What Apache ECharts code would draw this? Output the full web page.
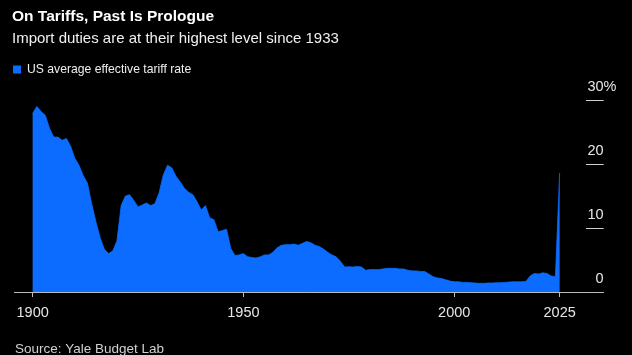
<!DOCTYPE html>
<html>
<head>
<meta charset="utf-8">
<script src="https://cdn.jsdelivr.net/npm/echarts@6/dist/echarts.min.js"></script>
<style>
html,body{margin:0;padding:0;background:#000;}
#chart{width:632px;height:355px;}
</style>
</head>
<body>
<div id="chart"></div>
<script>
const years = [
  1900,1901,1902,1903,1904,1905,1906,1907,1908,1909,
  1910,1911,1912,1913,1914,1915,1916,1917,1918,1919,
  1920,1921,1922,1923,1924,1925,1926,1927,1928,1929,
  1930,1931,1932,1933,1934,1935,1936,1937,1938,1939,
  1940,1941,1942,1943,1944,1945,1946,1947,1948,1949,
  1950,1951,1952,1953,1954,1955,1956,1957,1958,1959,
  1960,1961,1962,1963,1964,1965,1966,1967,1968,1969,
  1970,1971,1972,1973,1974,1975,1976,1977,1978,1979,
  1980,1981,1982,1983,1984,1985,1986,1987,1988,1989,
  1990,1991,1992,1993,1994,1995,1996,1997,1998,1999,
  2000,2001,2002,2003,2004,2005,2006,2007,2008,2009,
  2010,2011,2012,2013,2014,2015,2016,2017,2018,2019,
  2020,2021,2022,2023,2024,2025
];
const tariffRate = [
  27.9,29.0,28.2,27.6,25.6,24.2,24.2,23.7,24.0,22.8,
  20.9,19.8,18.2,17.0,13.8,11.0,8.5,6.7,6.0,6.4,
  8.0,13.5,15.0,15.2,14.3,13.3,13.6,13.9,13.5,13.8,
  15.5,18.3,19.8,19.4,18.1,17.2,16.2,15.6,15.2,14.1,
  12.8,13.5,11.6,11.3,9.4,9.6,9.8,6.8,5.7,5.8,
  6.0,5.5,5.4,5.3,5.5,5.8,5.8,6.2,6.9,7.3,
  7.4,7.4,7.5,7.3,7.6,7.9,7.7,7.3,7.1,6.7,
  6.2,5.8,5.5,4.8,3.9,3.95,3.9,4.0,3.9,3.4,
  3.5,3.5,3.5,3.6,3.7,3.7,3.7,3.6,3.6,3.4,
  3.3,3.3,3.2,3.2,2.8,2.4,2.2,2.1,1.9,1.7,
  1.6,1.6,1.5,1.5,1.45,1.4,1.35,1.35,1.4,1.4,
  1.45,1.45,1.5,1.55,1.6,1.6,1.6,1.65,2.5,2.9,
  2.8,3.0,2.9,2.5,2.4,18.6
];
const xTicks = [1900, 1950, 2000, 2025];
const yTicks = [0, 10, 20, 30];
const seriesName = 'US average effective tariff rate';

const FONT = "'Liberation Sans', Arial, sans-serif";
const BLUE = '#0b6cff';

const chart = echarts.init(document.getElementById('chart'), null, {renderer: 'canvas'});
chart.setOption({
  backgroundColor: '#000',
  animation: false,
  title: [
    {text: 'On Tariffs, Past Is Prologue', left: 12, top: 8.5, padding: 0,
     textStyle: {color: '#fff', fontFamily: FONT, fontSize: 15.5, fontWeight: 'bold'}},
    {text: 'Import duties are at their highest level since 1933', left: 12, top: 31, padding: 0,
     textStyle: {color: '#f0f0f0', fontFamily: FONT, fontSize: 15, fontWeight: 'normal'}},
    {text: 'Source: Yale Budget Lab', left: 15, top: 342, padding: 0,
     textStyle: {color: '#d0d0d0', fontFamily: FONT, fontSize: 13.5, fontWeight: 'normal'}}
  ],
  legend: {
    left: 13, top: 63.5, padding: 0, itemWidth: 8, itemHeight: 8, icon: 'rect',
    textStyle: {color: '#eee', fontFamily: FONT, fontSize: 12.2, padding: [0, 0, 0, 1]},
    data: [seriesName]
  },
  grid: [
    {left: 14.5, right: 28.3, top: 100, bottom: 63},
    {left: 586, right: 28.3, top: 100, bottom: 63}
  ],
  xAxis: [
    {type: 'value', gridIndex: 0, min: 1895.7, max: 2035.45,
     splitLine: {show: false},
     axisLine: {show: true, lineStyle: {color: '#bbb', width: 1}},
     axisTick: {show: true, customValues: xTicks, length: 5, lineStyle: {color: '#bbb'}},
     axisLabel: {show: true, customValues: xTicks, margin: 13, color: '#e6e6e6',
                 fontFamily: FONT, fontSize: 14.5, formatter: v => String(v)}},
    {type: 'value', gridIndex: 1, min: 0, max: 1, show: false}
  ],
  yAxis: [
    {type: 'value', gridIndex: 0, min: 0, max: 30, show: false},
    {type: 'value', gridIndex: 1, min: 0, max: 30, interval: 10, position: 'right',
     axisLine: {show: false}, axisTick: {show: false},
     splitLine: {show: true, lineStyle: {color: '#cfcfcf', width: 1}},
     axisLabel: {show: true, inside: true, margin: -12.7, color: '#e6e6e6',
                 fontFamily: FONT, fontSize: 14.5, verticalAlign: 'bottom',
                 padding: [0, 0, 6, 0],
                 formatter: v => v === yTicks[yTicks.length - 1] ? v + '%' : v + '{h|%}',
                 rich: {h: {color: 'rgba(0,0,0,0)', fontFamily: FONT, fontSize: 14.5}}}}
  ],
  series: [{
    name: seriesName,
    type: 'line',
    xAxisIndex: 0, yAxisIndex: 0,
    data: years.map((y, i) => [y, tariffRate[i]]),
    showSymbol: false,
    symbol: 'none',
    smooth: false,
    color: BLUE,
    lineStyle: {width: 0.8, color: BLUE},
    areaStyle: {color: BLUE, opacity: 1},
    z: 1
  }]
});
</script>
</body>
</html>
